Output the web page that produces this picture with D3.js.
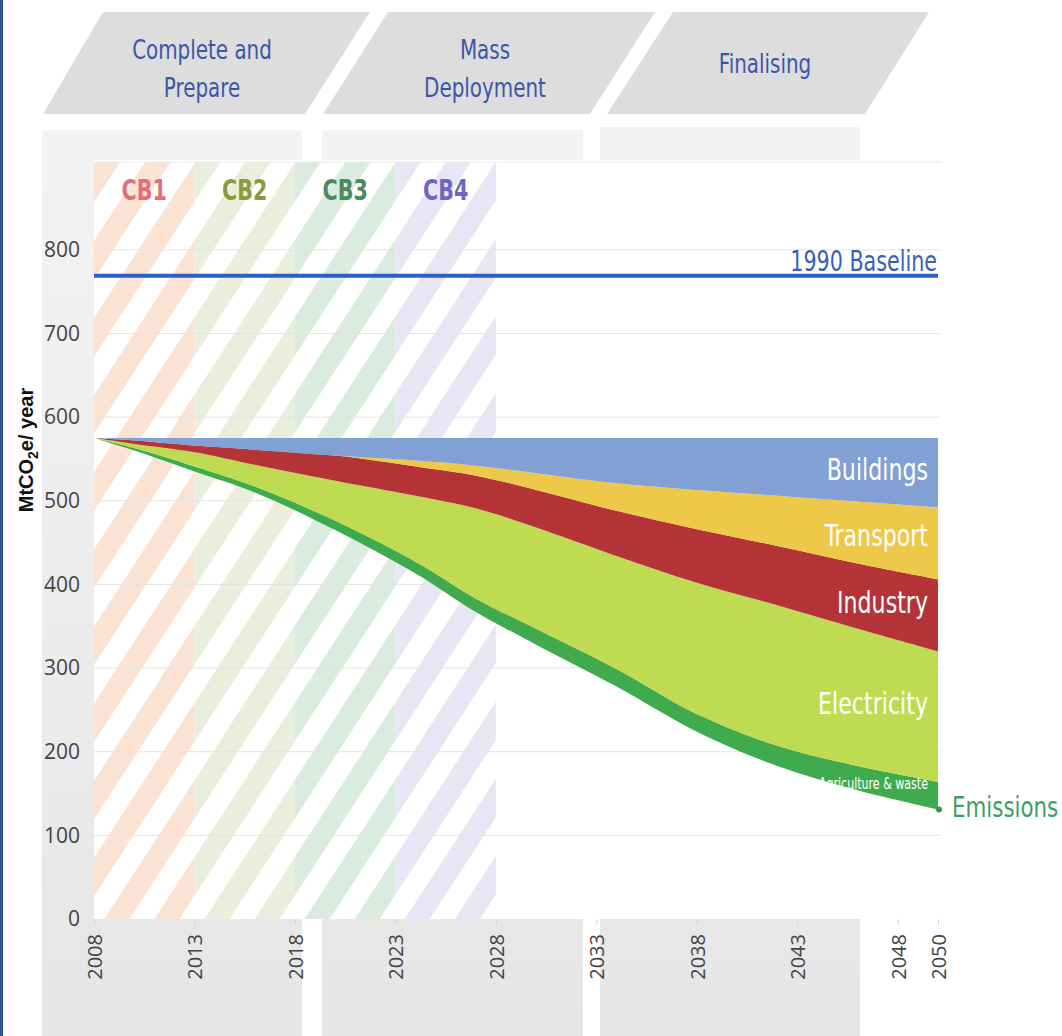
<!DOCTYPE html>
<html><head><meta charset="utf-8">
<script src="https://cdn.jsdelivr.net/npm/d3@7"></script>
<style>
html,body{margin:0;padding:0;background:#fff;}
svg{display:block;}
</style></head>
<body>
<svg id="chart" width="1062" height="1036"></svg>
<script>
// ---------- data ----------
const years       = [2008,2010,2013,2016,2020,2024,2027,2030,2034,2038,2042,2046,2050];
const emissions   = [575,560,535,510,465,413,367,328,278,224,183,154,131];
const agriculture = [0,3,6,7,11,14,16,19,21,21,24,29,33];
const electricity = [0,5,17,26,48,79,108,121,135,157,168,164,156];
const industry    = [0,4,8,18,30,35,39,45,54,64,71,78,86];
const transport   = [0,0,0,0,0,7,12,20,33,47,60,74,86];
const buildings   = [0,3,9,14,21,27,33,42,54,62,69,76,83];
const sectorKeys  = ["agriculture","electricity","industry","transport","buildings"];
const sectorNames = ["Agriculture & waste","Electricity","Industry","Transport","Buildings"];
const baseline1990 = 769;
const yTicks = [0,100,200,300,400,500,600,700,800];
const xTicks = [2008,2013,2018,2023,2028,2033,2038,2043,2048,2050];
const cbLabels = ["CB1","CB2","CB3","CB4"];
const cbStarts = [2008,2013,2018,2023];
const cbEnds   = [2013,2018,2023,2028];
const phaseLines = [["Complete and","Prepare"],["Mass","Deployment"],["Finalising"]];

// ---------- layout / styles ----------
const W = 1062, H = 1036;
const L = 94, R = 938, T = 162, B = 919;
const narrow = "'DejaVu Sans Condensed','Open Sans',sans-serif";
const SX = 0.82;
const sectorColors = {agriculture:"#36a644", electricity:"#bcd948", industry:"#b0292c", transport:"#edc53f", buildings:"#7b9bd2"};
const cbFill = ["#fbe3d4","#e9efdc","#d9ecdf","#e7e6f5"];
const cbText = ["#e2707a","#8a9a3e","#4c8a5d","#6f66be"];
const panels = [[42,302,130],[322,583,130],[600,860,127]];
const banners = [[43,103,370,305],[323,388,655,590],[607,673,929,865]];
const bannerCx = [202,485,765];

const svg = d3.select("#chart");
svg.append("rect").attr("width",W).attr("height",H).attr("fill","#fff");

function ntext(parent, x, y, str, size, fill, anchor, weight){
  const g = parent.append("g").attr("transform",`translate(${x},${y}) scale(${SX},1)`);
  return g.append("text").attr("x",0).attr("y",0).attr("text-anchor",anchor||"start")
    .attr("font-family",narrow).attr("font-size",size).attr("fill",fill)
    .attr("font-weight",weight||"normal").text(str);
}

const defs = svg.append("defs");
const grad = defs.append("linearGradient").attr("id","pg").attr("x1",0).attr("y1",0).attr("x2",0).attr("y2",1);
grad.append("stop").attr("offset","0%").attr("stop-color","#f3f3f3");
grad.append("stop").attr("offset","100%").attr("stop-color","#e6e6e6");
cbFill.forEach((c,i)=>{
  const p = defs.append("pattern").attr("id","hatch"+i).attr("patternUnits","userSpaceOnUse")
    .attr("width",42).attr("height",42).attr("patternTransform","rotate(33)");
  p.append("rect").attr("width",42).attr("height",42).attr("fill","#fff");
  p.append("rect").attr("width",21).attr("height",42).attr("fill",c);
});

// left blue stripe
svg.append("rect").attr("x",0).attr("y",0).attr("width",3).attr("height",H).attr("fill","#2b5591");

// phase panels
panels.forEach(p=>{
  svg.append("rect").attr("x",p[0]).attr("y",p[2]).attr("width",p[1]-p[0]).attr("height",H-p[2]).attr("fill","url(#pg)");
});
// banners
banners.forEach((b,i)=>{
  svg.append("polygon").attr("points",`${b[0]},114 ${b[1]},12 ${b[2]},12 ${b[3]},114`).attr("fill","#dddddd");
  const lines = phaseLines[i];
  const y0 = lines.length===1 ? 73 : 59;
  lines.forEach((ln,j)=> ntext(svg, bannerCx[i], y0+j*38, ln, 27, "#3c56a6", "middle"));
});

// plot background
svg.append("rect").attr("x",L).attr("y",T-2).attr("width",R-L+2).attr("height",B-T+2).attr("fill","#fff");

const x = d3.scaleLinear().domain([2008,2050]).range([L,R]);
const y = d3.scaleLinear().domain([0,905]).range([B,T]);

// hatched carbon budget periods
cbLabels.forEach((lab,i)=>{
  svg.append("rect").attr("x",x(cbStarts[i])).attr("y",T).attr("width",x(cbEnds[i])-x(cbStarts[i])).attr("height",B-T)
    .attr("fill",`url(#hatch${i})`);
});

// grid
const grid = svg.append("g");
yTicks.filter(d=>d>0).forEach(d=>{
  grid.append("line").attr("x1",L).attr("x2",R+2).attr("y1",y(d)).attr("y2",y(d)).attr("stroke","#e3e3e3").attr("stroke-width",1);
});
grid.append("line").attr("x1",L).attr("x2",R+2).attr("y1",T).attr("y2",T).attr("stroke","#e8e8e8");

// CB labels
cbLabels.forEach((lab,i)=>{
  ntext(svg,(x(cbStarts[i])+x(cbEnds[i]))/2, 200, lab, 28, cbText[i], "middle", "bold");
});

// stacked areas
const table = years.map((yr,i)=>({year:yr, emissions:emissions[i], agriculture:agriculture[i], electricity:electricity[i],
  industry:industry[i], transport:transport[i], buildings:buildings[i]}));
const stack = d3.stack().keys(["emissions", ...sectorKeys]);
const series = stack(table);
const area = d3.area().x(d=>x(d.data.year)).y0(d=>y(d[0])).y1(d=>y(d[1])).curve(d3.curveCatmullRom.alpha(0.5));
series.slice(1).forEach(s=>{
  svg.append("path").datum(s).attr("d",area).attr("fill",sectorColors[s.key]).attr("fill-opacity",0.95);
});
// emissions end dot
svg.append("circle").attr("cx",x(2050)+1).attr("cy",y(emissions[emissions.length-1])).attr("r",3).attr("fill","#2f9a48");

// baseline
svg.append("line").attr("x1",L).attr("x2",R).attr("y1",y(baseline1990)).attr("y2",y(baseline1990))
  .attr("stroke","#2f5ec6").attr("stroke-width",4);
ntext(svg, R-1, y(baseline1990)-5, "1990 Baseline", 28, "#3a5fb8", "end");

// sector labels (right aligned, centred in band near label position)
sectorKeys.forEach((k,i)=>{
  const s = series[i+1];
  const small = k==="agriculture";
  const a = s[s.length-2], b = s[s.length-1], t = 0.4;
  const mid = ((a[0]+a[1])/2)*(1-t) + ((b[0]+b[1])/2)*t;
  let cy = y(mid) + 9;
  if (small) cy = y(b[1]) + 7;
  ntext(svg, R-10, cy, sectorNames[i], small?15:30, "#fff", "end");
});
ntext(svg, 952, y(emissions[emissions.length-1])+8, "Emissions", 29, "#3aa066", "start");

// axes
const yAxis = svg.append("g").attr("transform",`translate(${L},0)`)
  .call(d3.axisLeft(y).tickValues(yTicks).tickSize(0).tickPadding(14));
yAxis.select(".domain").remove();
yAxis.selectAll("text").attr("font-family","'Open Sans',sans-serif").attr("font-size",21).attr("fill","#444");

const xAxis = svg.append("g").attr("transform",`translate(0,${B})`)
  .call(d3.axisBottom(x).tickValues(xTicks).tickFormat(d3.format("d")).tickSize(6));
xAxis.select(".domain").remove();
xAxis.selectAll("line").attr("stroke","#d6d6d6");
xAxis.selectAll("text").attr("transform","rotate(-90)").attr("x",-15).attr("y",0).attr("dy","0.36em")
  .attr("text-anchor","end").attr("font-family","'Open Sans',sans-serif").attr("font-size",20).attr("fill","#444");

// y title
const yt = svg.append("text").attr("transform","translate(33,450) rotate(-90)").attr("text-anchor","middle")
  .attr("font-family","'Liberation Sans',Arial,sans-serif").attr("font-weight","bold").attr("font-size",20).attr("fill","#111");
yt.append("tspan").text("MtCO");
yt.append("tspan").attr("font-size",14).attr("dy",5).text("2");
yt.append("tspan").attr("dy",-5).text("e/ year");
</script>
</body></html>
